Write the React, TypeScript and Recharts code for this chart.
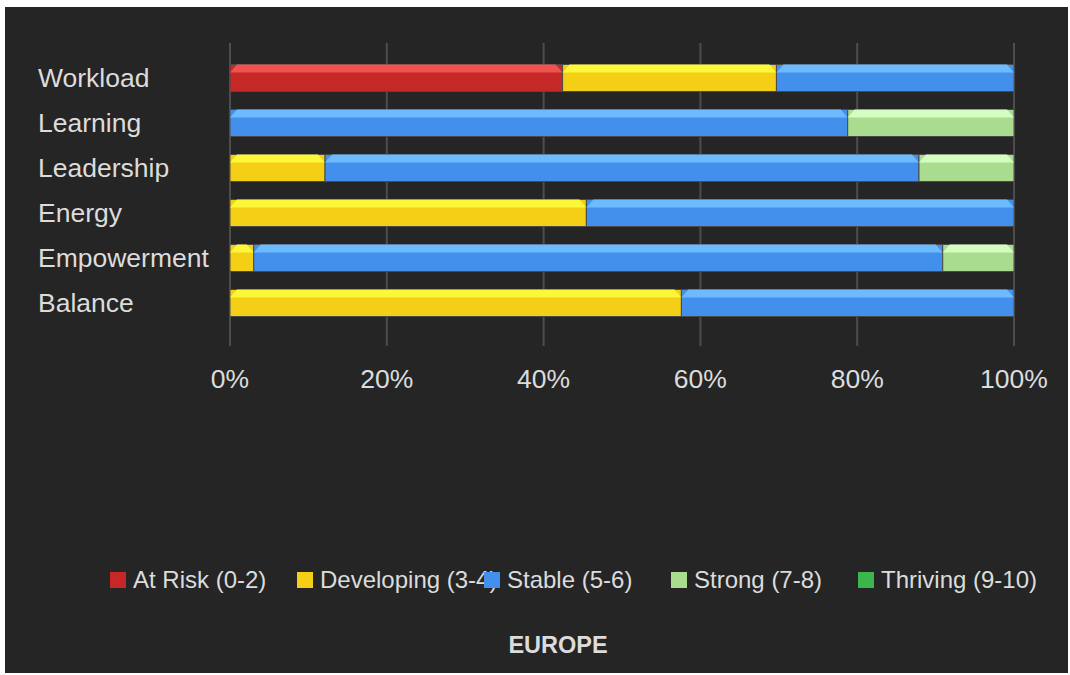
import { Bar, BarChart, CartesianGrid, XAxis, YAxis } from "recharts";

const categories = ["Workload", "Learning", "Leadership", "Energy", "Empowerment", "Balance"];

// response counts per band (chart shows share of each row)
const atRisk = [14, 0, 0, 0, 0, 0];
const developing = [9, 0, 4, 15, 1, 19];
const stable = [10, 26, 25, 18, 29, 14];
const strong = [0, 7, 4, 0, 3, 0];
const thriving = [0, 0, 0, 0, 0, 0];

const pctTicks = [0, 0.2, 0.4, 0.6, 0.8, 1];
const chartTitle = "EUROPE";

const series = [
  { key: "atRisk", name: "At Risk (0-2)", values: atRisk, color: "#c62828", light: "#ef5350" },
  { key: "developing", name: "Developing (3-4)", values: developing, color: "#f5cf16", light: "#fdf73a" },
  { key: "stable", name: "Stable (5-6)", values: stable, color: "#4290ec", light: "#6dbaff" },
  { key: "strong", name: "Strong (7-8)", values: strong, color: "#a9dc8f", light: "#d6fdc1" },
  { key: "thriving", name: "Thriving (9-10)", values: thriving, color: "#3cb54b", light: "#6fe07a" },
];

const rows = categories.map((name, i) => {
  const row: Record<string, string | number> = { name };
  series.forEach((s) => {
    row[s.key] = s.values[i];
  });
  return row;
});

const FONT = "Arial, 'Liberation Sans', sans-serif";
const TEXT = "#dcdcdc";

function BevelBar(props: any) {
  const { x, y, width, height, fill, light } = props;
  if (!width || width <= 0.5) return null;
  const s = Math.min(8, height / 3);
  const c = Math.min(7, width / 3);
  const strip = `${x},${y + s} ${x + c},${y} ${x + width - c},${y} ${x + width},${y + s}`;
  return (
    <g>
      <rect x={x} y={y} width={width} height={height} fill={fill} stroke="#4a4a4a" strokeWidth={1} />
      <polygon points={strip} fill={light} />
    </g>
  );
}

function CategoryTick(props: any) {
  const { y, payload } = props;
  return (
    <text x={33} y={y} dy="0.35em" textAnchor="start" fill={TEXT} fontSize={26.5} fontFamily={FONT}>
      {payload.value}
    </text>
  );
}

function PctTick(props: any) {
  const { x, y, payload } = props;
  return (
    <text x={x} y={y} dy={25} textAnchor="middle" dominantBaseline="central" fill={TEXT} fontSize={26.5} fontFamily={FONT}>
      {Math.round(payload.value * 100)}%
    </text>
  );
}

export default function App() {
  return (
    <div
      style={{
        position: "absolute",
        left: 5,
        top: 7,
        width: 1063,
        height: 666,
        background: "#252525",
        fontFamily: FONT,
      }}
    >
      <BarChart
        width={1063}
        height={666}
        data={rows}
        layout="vertical"
        stackOffset="expand"
        barSize={27}
        margin={{ top: 36, right: 54, bottom: 267, left: 25 }}
      >
        <CartesianGrid horizontal={false} stroke="#4d4d4d" strokeWidth={2} />
        <XAxis
          type="number"
          domain={[0, 1]}
          ticks={pctTicks}
          axisLine={false}
          tickLine={false}
          height={60}
          tick={<PctTick />}
        />
        <YAxis
          type="category"
          dataKey="name"
          width={200}
          axisLine={false}
          tickLine={false}
          padding={{ top: 12.5, bottom: 20.5 }}
          tick={<CategoryTick />}
        />
        {series.map((s) => (
          <Bar
            key={s.key}
            dataKey={s.key}
            name={s.name}
            stackId="a"
            fill={s.color}
            isAnimationActive={false}
            shape={(p: any) => <BevelBar {...p} light={s.light} />}
          />
        ))}
      </BarChart>

      <div style={{ position: "absolute", left: 105, top: 561, height: 24, display: "flex" }}>
        {series.map((s) => (
          <div
            key={s.key}
            style={{ width: 187, height: 24, display: "flex", alignItems: "center", whiteSpace: "nowrap", position: "relative" }}
          >
            <span style={{ width: 16, height: 16, background: s.color, display: "inline-block", flex: "none" }} />
            <span style={{ marginLeft: 7, fontSize: 24, color: TEXT, lineHeight: "24px" }}>{s.name}</span>
          </div>
        ))}
      </div>

      <div
        style={{
          position: "absolute",
          left: 553,
          top: 625,
          transform: "translateX(-50%)",
          fontSize: 23.5,
          fontWeight: "bold",
          color: TEXT,
          lineHeight: "26px",
        }}
      >
        {chartTitle}
      </div>
    </div>
  );
}
